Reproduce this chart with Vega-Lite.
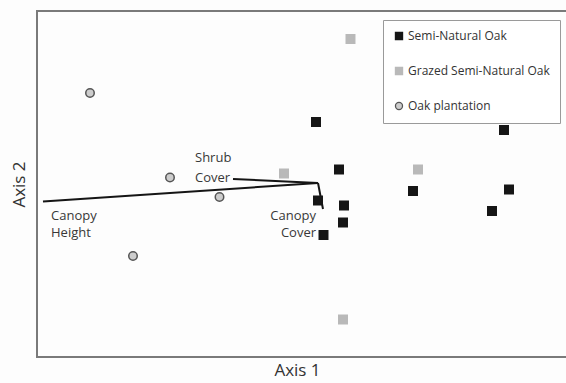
{
  "$schema": "https://vega.github.io/schema/vega-lite/v6.json",
  "width": 530,
  "height": 346,
  "autosize": {"type": "none"},
  "padding": {"left": 37, "top": 11, "right": 0, "bottom": 26},
  "background": "#fdfdfd",
  "config": {
    "view": {"stroke": "#7a7a7a", "strokeWidth": 2},
    "font": "Open Sans"
  },
  "datasets": {
    "sites": [
      {"group": "Semi-Natural Oak", "x": -0.02, "y": 0.60},
      {"group": "Semi-Natural Oak", "x": 1.86, "y": 0.52},
      {"group": "Semi-Natural Oak", "x": 0.21, "y": 0.125},
      {"group": "Semi-Natural Oak", "x": 0.95, "y": -0.09},
      {"group": "Semi-Natural Oak", "x": 1.91, "y": -0.075},
      {"group": "Semi-Natural Oak", "x": 0.00, "y": -0.185},
      {"group": "Semi-Natural Oak", "x": 0.26, "y": -0.235},
      {"group": "Semi-Natural Oak", "x": 1.74, "y": -0.29},
      {"group": "Semi-Natural Oak", "x": 0.25, "y": -0.405},
      {"group": "Semi-Natural Oak", "x": 0.055, "y": -0.53},
      {"group": "Grazed Semi-Natural Oak", "x": 0.325, "y": 1.43},
      {"group": "Grazed Semi-Natural Oak", "x": -0.34, "y": 0.085},
      {"group": "Grazed Semi-Natural Oak", "x": 1.00, "y": 0.125},
      {"group": "Grazed Semi-Natural Oak", "x": 0.25, "y": -1.375},
      {"group": "Oak plantation", "x": -2.28, "y": 0.89},
      {"group": "Oak plantation", "x": -1.48, "y": 0.045},
      {"group": "Oak plantation", "x": -0.985, "y": -0.15},
      {"group": "Oak plantation", "x": -1.85, "y": -0.74}
    ],
    "vectors": [
      {"vector": "Canopy Height", "x": 0, "y": -0.01, "x2": -2.75, "y2": -0.195},
      {"vector": "Shrub Cover", "x": 0, "y": -0.01, "x2": -0.85, "y2": 0.03},
      {"vector": "Canopy Cover", "x": 0, "y": -0.01, "x2": 0.05, "y2": -0.27}
    ],
    "labels": [
      {"vector": "Shrub Cover", "label": "Shrub", "x": -1.23, "y": 0.24},
      {"vector": "Shrub Cover", "label": "Cover", "x": -1.23, "y": 0.04},
      {"vector": "Canopy Height", "label": "Canopy", "x": -2.67, "y": -0.34},
      {"vector": "Canopy Height", "label": "Height", "x": -2.67, "y": -0.51},
      {"vector": "Canopy Cover", "label": "Canopy", "x": -0.02, "y": -0.34},
      {"vector": "Canopy Cover", "label": "Cover", "x": -0.02, "y": -0.51}
    ]
  },
  "encoding": {
    "x": {
      "field": "x",
      "type": "quantitative",
      "scale": {"domain": [-2.81, 2.49], "nice": false, "zero": false},
      "axis": {
        "title": "Axis 1",
        "ticks": false,
        "labels": false,
        "grid": false,
        "domain": false,
        "titleX": 260,
        "titleFont": "Open Sans",
        "titleFontSize": 17,
        "titleFontWeight": "normal",
        "titleColor": "#333333",
        "titlePadding": 5
      }
    },
    "y": {
      "field": "y",
      "type": "quantitative",
      "scale": {"domain": [-1.75, 1.71], "nice": false, "zero": false},
      "axis": {
        "title": "Axis 2",
        "ticks": false,
        "labels": false,
        "grid": false,
        "domain": false,
        "titleFont": "Open Sans",
        "titleFontSize": 17,
        "titleFontWeight": "normal",
        "titleColor": "#333333",
        "titlePadding": 9
      }
    }
  },
  "layer": [
    {
      "data": {"name": "vectors"},
      "mark": {"type": "rule", "color": "#151515", "strokeWidth": 2},
      "encoding": {
        "x2": {"field": "x2"},
        "y2": {"field": "y2"}
      }
    },
    {
      "data": {"name": "labels"},
      "transform": [{"filter": "datum.vector != 'Canopy Cover'"}],
      "mark": {"type": "text", "align": "left", "baseline": "middle", "font": "Open Sans", "fontSize": 13, "color": "#383838"},
      "encoding": {"text": {"field": "label", "type": "nominal"}}
    },
    {
      "data": {"name": "labels"},
      "transform": [{"filter": "datum.vector == 'Canopy Cover'"}],
      "mark": {"type": "text", "align": "right", "baseline": "middle", "font": "Open Sans", "fontSize": 13, "color": "#383838"},
      "encoding": {"text": {"field": "label", "type": "nominal"}}
    },
    {
      "data": {"name": "sites"},
      "mark": {"type": "point", "size": 72, "strokeWidth": 1.5, "opacity": 1},
      "encoding": {
        "shape": {
          "field": "group",
          "type": "nominal",
          "scale": {
            "domain": ["Semi-Natural Oak", "Grazed Semi-Natural Oak", "Oak plantation"],
            "range": ["square", "square", "circle"]
          },
          "legend": {
            "title": null,
            "orient": "none",
            "legendX": 346,
            "legendY": 9,
            "strokeColor": "#9a9a9a",
            "fillColor": "#ffffff",
            "padding": 10,
            "rowPadding": 21,
            "labelFont": "Open Sans",
            "labelFontSize": 12,
            "labelColor": "#333333",
            "labelOffset": 3,
            "symbolSize": 50,
            "symbolStrokeWidth": 1.3,
            "encode": {"legend": {"update": {"strokeWidth": {"value": 1.5}}}}
          }
        },
        "fill": {
          "field": "group",
          "type": "nominal",
          "scale": {
            "domain": ["Semi-Natural Oak", "Grazed Semi-Natural Oak", "Oak plantation"],
            "range": ["#161616", "#b9b9b9", "#cdcdcd"]
          }
        },
        "stroke": {
          "field": "group",
          "type": "nominal",
          "scale": {
            "domain": ["Semi-Natural Oak", "Grazed Semi-Natural Oak", "Oak plantation"],
            "range": ["#161616", "#b9b9b9", "#555555"]
          }
        }
      }
    }
  ]
}
